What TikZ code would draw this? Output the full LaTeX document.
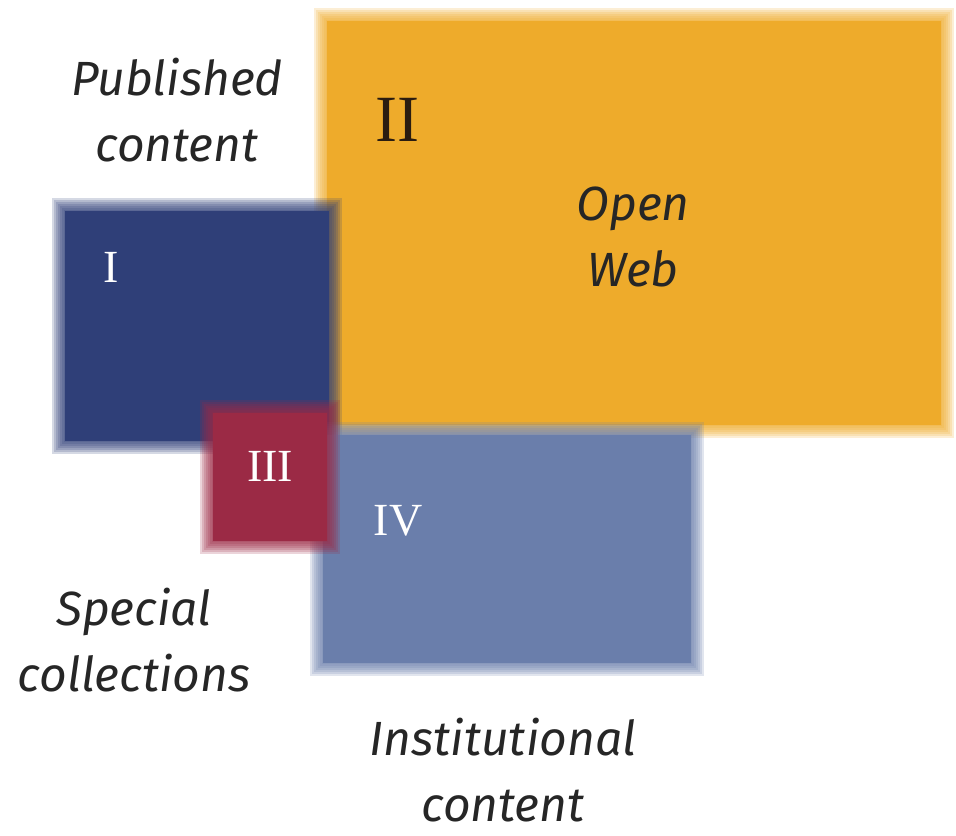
\documentclass[tikz,border=0pt]{standalone}
\usepackage{fontspec}
\setmainfont{Liberation Serif}
\newfontfamily\labelfont{Fira Sans}
\usetikzlibrary{calc}
\definecolor{webyellow}{HTML}{EEAB2B}
\definecolor{pubblue}{HTML}{2F3F78}
\definecolor{specred}{HTML}{9B2A45}
\definecolor{instblue}{HTML}{6A7EAB}
\definecolor{darkink}{HTML}{2A1C10}
\tikzset{
	area label/.style={font=\labelfont\itshape\fontsize{24}{33}\selectfont, text=black!85, align=center, inner sep=0pt},
	numeral/.style={font=\fontsize{23}{23}\selectfont, text=white, inner sep=0pt},
}
% block with a soft edge
\newcommand{\fuzzyblock}[3]{%
	\foreach \e in {8,6,...,-4}
		\fill[#1, opacity=0.2] ($#2+(-\e,-\e)$) rectangle ($#3+(\e,\e)$);
	\fill[#1] ($#2+(5,5)$) rectangle ($#3+(-5,-5)$);}
\begin{document}
\begin{tikzpicture}[x=0.5pt, y=-0.5pt]
		\useasboundingbox (0,0) rectangle (956,835);
		\fuzzyblock{webyellow}{(322,16)}{(946,430)}
		\fuzzyblock{pubblue}{(60,206)}{(334,446)}
		\fuzzyblock{instblue}{(318,430)}{(696,668)}
		\fuzzyblock{specred}{(208,408)}{(332,546)}
		\node[numeral, text=darkink, font=\fontsize{33}{33}\selectfont] (two) at (397,120) {II};
		\node[numeral] (one) at (111,267) {I};
		\node[numeral] (three) at (270,466) {III};
		\node[numeral] (four) at (398,521) {IV};
		\node[area label] (published) at (177,110) {Published\\content};
		\node[area label] (openweb) at (633,237) {Open\\Web};
		\node[area label] (special) at (134,640) {Special\\collections};
		\node[area label] (institutional) at (503,770) {Institutional\\content};
	\end{tikzpicture}
\end{document}
